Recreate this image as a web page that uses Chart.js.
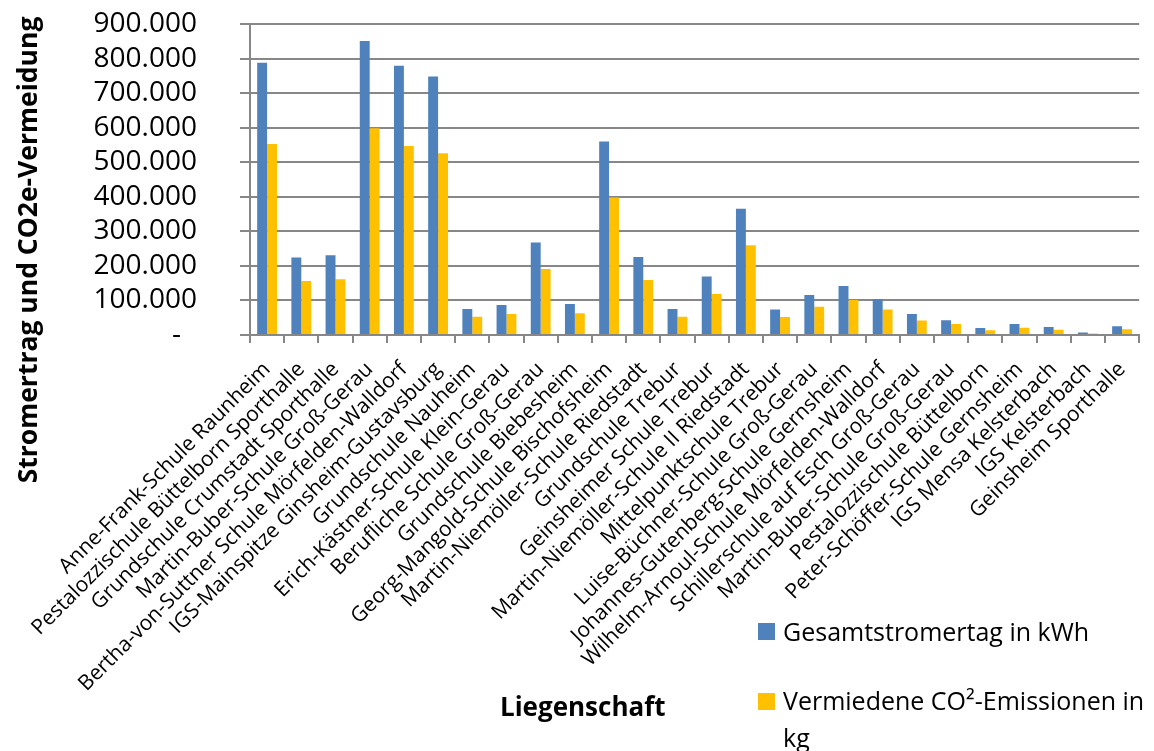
<!DOCTYPE html>
<html>
<head>
<meta charset="utf-8">
<script src="https://cdn.jsdelivr.net/npm/chart.js@4.4.1/dist/chart.umd.min.js"></script>
<style>
  html, body { margin: 0; padding: 0; background: #ffffff; }
  canvas { display: block; }
</style>
</head>
<body>
<canvas id="chart" width="1154" height="751"></canvas>
<script>
const categories = [
  'Anne-Frank-Schule Raunheim',
  'Pestalozzischule Büttelborn Sporthalle',
  'Grundschule Crumstadt Sporthalle',
  'Martin-Buber-Schule Groß-Gerau',
  'Bertha-von-Suttner Schule Mörfelden-Walldorf',
  'IGS-Mainspitze Ginsheim-Gustavsburg',
  'Grundschule Nauheim',
  'Erich-Kästner-Schule Klein-Gerau',
  'Berufliche Schule Groß-Gerau',
  'Grundschule Biebesheim',
  'Georg-Mangold-Schule Bischofsheim',
  'Martin-Niemöller-Schule Riedstadt',
  'Grundschule Trebur',
  'Geinsheimer Schule Trebur',
  'Martin-Niemöller-Schule II Riedstadt',
  'Mittelpunktschule Trebur',
  'Luise-Büchner-Schule Groß-Gerau',
  'Johannes-Gutenberg-Schule Gernsheim',
  'Wilhelm-Arnoul-Schule Mörfelden-Walldorf',
  'Schillerschule auf Esch Groß-Gerau',
  'Martin-Buber-Schule Groß-Gerau',
  'Pestalozzischule Büttelborn',
  'Peter-Schöffer-Schule Gernsheim',
  'IGS Mensa Kelsterbach',
  'IGS Kelsterbach',
  'Geinsheim Sporthalle'
];

const gesamtstromertrag = [
  788000, 224000, 231000, 851000, 779000, 748000, 75000, 87000, 268000, 90000,
  560000, 226000, 75000, 169000, 365000, 74000, 116000, 142000, 104000, 61000,
  43000, 20000, 32000, 23000, 7000, 25000
];

const vermiedeneCO2 = [
  553000, 156000, 161000, 598000, 547000, 526000, 53000, 61000, 191000, 63000,
  398000, 159000, 53000, 119000, 260000, 52000, 82000, 101000, 74000, 42000,
  32000, 14000, 21000, 15000, 4000, 17000
];

const yTickLabels = ['-\u2007', '100.000', '200.000', '300.000', '400.000',
                     '500.000', '600.000', '700.000', '800.000', '900.000'];

const seriesNames = ['Gesamtstromertag in kWh', 'Vermiedene CO²-Emissionen in kg'];
const seriesColors = ['#4F81BD', '#FFC000'];
const xAxisTitle = 'Liegenschaft';
const yAxisTitle = 'Stromertrag und CO2e-Vermeidung';

const FONT = '"Open Sans", "DejaVu Sans", sans-serif';
const GRID = '#878787';

const decorations = {
  id: 'decorations',
  afterDraw(chart) {
    const ctx = chart.ctx;
    ctx.save();
    ctx.fillStyle = '#000000';

    // Y axis title (rotated)
    ctx.save();
    ctx.font = 'bold 26.5px ' + FONT;
    ctx.translate(29, 250);
    ctx.rotate(-Math.PI / 2);
    ctx.textAlign = 'center';
    ctx.textBaseline = 'middle';
    ctx.fillText(yAxisTitle, 0, 0);
    ctx.restore();

    // X axis title
    ctx.font = 'bold 26px ' + FONT;
    ctx.textAlign = 'left';
    ctx.textBaseline = 'alphabetic';
    ctx.fillText(xAxisTitle, 500, 716);

    // Legend
    ctx.font = '25px ' + FONT;
    const boxX = 758, textX = 783, maxW = chart.width - textX - 2;
    const rows = [{ boxY: 623, base: 641 }, { boxY: 693, base: 710 }];
    chart.data.datasets.forEach((ds, i) => {
      const r = rows[i];
      ctx.fillStyle = ds.backgroundColor;
      ctx.fillRect(boxX, r.boxY, 17, 17);
      ctx.fillStyle = '#000000';
      const words = ds.label.split(' ');
      let line = '', y = r.base;
      words.forEach(w => {
        const test = line ? line + ' ' + w : w;
        if (ctx.measureText(test).width > maxW && line) {
          ctx.fillText(line, textX, y);
          line = w; y += 37;
        } else {
          line = test;
        }
      });
      if (line) ctx.fillText(line, textX, y);
    });
    ctx.restore();
  }
};

new Chart(document.getElementById('chart'), {
  type: 'bar',
  data: {
    labels: categories,
    datasets: [
      { label: seriesNames[0], data: gesamtstromertrag, backgroundColor: seriesColors[0],
        categoryPercentage: 0.58, barPercentage: 1.0 },
      { label: seriesNames[1], data: vermiedeneCO2, backgroundColor: seriesColors[1],
        categoryPercentage: 0.58, barPercentage: 1.0 }
    ]
  },
  options: {
    responsive: false,
    animation: false,
    devicePixelRatio: 1,
    layout: { padding: { left: 0, right: 7, top: 24, bottom: 0 } },
    plugins: {
      legend: { display: false },
      tooltip: { enabled: false },
      title: { display: false }
    },
    scales: {
      x: {
        grid: { display: true, offset: true, drawOnChartArea: false, drawTicks: true,
                tickLength: 8, color: GRID, lineWidth: 2 },
        border: { display: true, color: GRID, width: 2 },
        ticks: {
          autoSkip: false, minRotation: 45, maxRotation: 45, padding: 14,
          color: '#000000', font: { family: FONT, size: 21 }
        },
        afterFit(scale) { scale.height = 751 - 335; }
      },
      y: {
        min: 0, max: 900000,
        grid: { color: GRID, lineWidth: 2, tickLength: 10, drawTicks: true },
        border: { display: true, color: GRID, width: 2 },
        ticks: {
          autoSkip: false, stepSize: 100000, padding: 43, color: '#000000',
          font: { family: FONT, size: 28 },
          callback: (v, i) => yTickLabels[i]
        },
        afterFit(scale) {
          scale.width = 250;
          scale.paddingTop = 17;
          scale.paddingBottom = 17;
        }
      }
    }
  },
  plugins: [decorations]
});
</script>
</body>
</html>
